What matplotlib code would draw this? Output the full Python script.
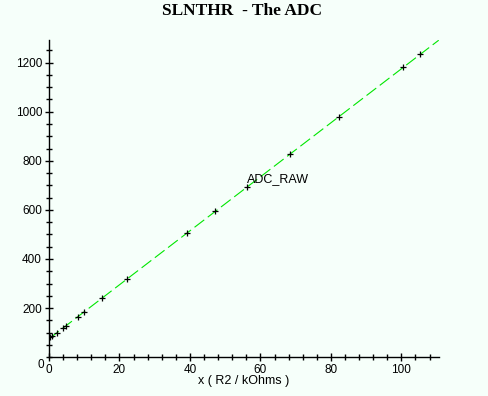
import numpy as np
import matplotlib
matplotlib.use("Agg")
import matplotlib.pyplot as plt
from matplotlib.ticker import MultipleLocator

# Data
r2_kohms = [0.3, 0.9, 2.2, 3.9, 4.8, 8.1, 10.0, 15.0, 22.0, 39.2, 47.2, 56.2, 68.4, 82.4, 100.4, 105.3]
adc_raw = [81, 85, 100, 119, 127, 163, 183, 240, 317, 506, 594, 692, 827, 978, 1181, 1234]
series_label = "ADC_RAW"
label_index = 11
title_text = "SLNTHR  - The ADC"
xlabel_text = "x ( R2 / kOhms )"
x_ticks = [0, 20, 40, 60, 80, 100]
y_ticks = [200, 400, 600, 800, 1000, 1200]

bg = "#f6fffa"
fig = plt.figure(figsize=(4.88, 3.96), dpi=100, facecolor=bg)
ax = fig.add_axes([49/488, 1-357.2/396, (438.7-49)/488, (357.2-40)/396])
ax.set_facecolor(bg)

xmin, xmax = 0, 110.6
ymin, ymax = 0, 1292

# fitted line through the data
coef = np.polyfit(r2_kohms, adc_raw, 1)
xl = np.array([xmin, xmax])
ax.plot(xl, np.polyval(coef, xl), color="#00e600", lw=0.8, dashes=(11, 4), zorder=2)
ax.plot(r2_kohms, adc_raw, ls="none", marker="+", ms=5, mew=0.9, color="black", zorder=3)

ax.annotate(series_label, (r2_kohms[label_index], adc_raw[label_index]),
            xytext=(0, 1.5), textcoords="offset points", ha="left", va="bottom",
            fontsize=9, family="Liberation Sans", color="black")

ax.set_xlim(xmin, xmax)
ax.set_ylim(ymin, ymax)
for s in ["top", "right"]:
    ax.spines[s].set_visible(False)
for s in ["left", "bottom"]:
    ax.spines[s].set_linewidth(1.0)
    ax.spines[s].set_color("black")

ax.set_xticks(x_ticks)
ax.set_yticks(y_ticks)
ax.xaxis.set_minor_locator(MultipleLocator(4))
ax.yaxis.set_minor_locator(MultipleLocator(50))
ax.tick_params(which="major", direction="inout", length=6, width=1, labelsize=8.5, pad=2)
ax.tick_params(which="minor", direction="inout", length=4, width=1)
for lbl in ax.get_xticklabels() + ax.get_yticklabels():
    lbl.set_family("Liberation Sans")

ax.text(-1.5, -8, "0", ha="right", va="top", fontsize=8.5, family="Liberation Sans")

ax.set_xlabel(xlabel_text, fontsize=9, family="Liberation Sans", labelpad=-1)
fig.text(242.5/488, 1-11/396, title_text, ha="center", va="center",
         fontsize=12.5, family="Liberation Serif", fontweight="bold")

fig.savefig("out.png", dpi=100, facecolor=bg)
